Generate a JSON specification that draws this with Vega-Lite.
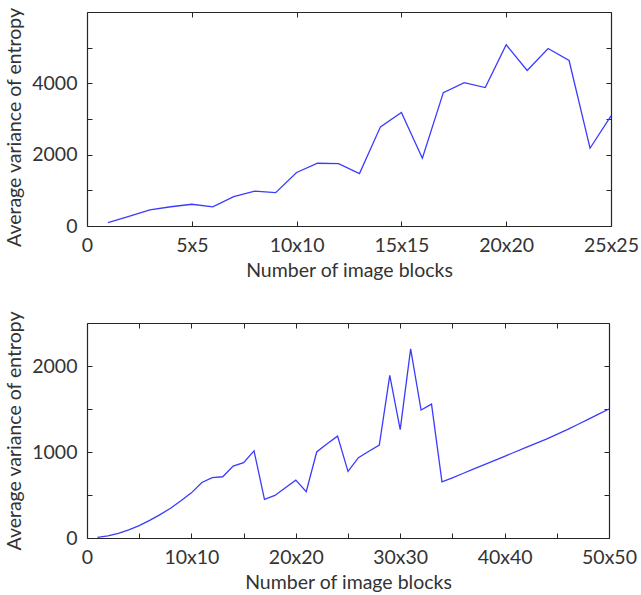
{
  "$schema": "https://vega.github.io/schema/vega-lite/v6.json",
  "padding": {"left": 4, "top": 7, "right": 20, "bottom": 5},
  "spacing": 30,
  "datasets": {
    "top": [
      {"blocks": 1, "variance": 95}, {"blocks": 2, "variance": 270}, {"blocks": 3, "variance": 450},
      {"blocks": 4, "variance": 540}, {"blocks": 5, "variance": 610}, {"blocks": 6, "variance": 535},
      {"blocks": 7, "variance": 825}, {"blocks": 8, "variance": 975}, {"blocks": 9, "variance": 935},
      {"blocks": 10, "variance": 1500}, {"blocks": 11, "variance": 1760}, {"blocks": 12, "variance": 1750},
      {"blocks": 13, "variance": 1470}, {"blocks": 14, "variance": 2780}, {"blocks": 15, "variance": 3180},
      {"blocks": 16, "variance": 1900}, {"blocks": 17, "variance": 3740}, {"blocks": 18, "variance": 4020},
      {"blocks": 19, "variance": 3880}, {"blocks": 20, "variance": 5080}, {"blocks": 21, "variance": 4360},
      {"blocks": 22, "variance": 4975}, {"blocks": 23, "variance": 4640}, {"blocks": 24, "variance": 2180},
      {"blocks": 25, "variance": 3085}
    ],
    "bottom": [
      {"blocks": 1, "variance": 8}, {"blocks": 2, "variance": 25}, {"blocks": 3, "variance": 55},
      {"blocks": 4, "variance": 94}, {"blocks": 5, "variance": 143}, {"blocks": 6, "variance": 205},
      {"blocks": 7, "variance": 272}, {"blocks": 8, "variance": 345}, {"blocks": 9, "variance": 432},
      {"blocks": 10, "variance": 525}, {"blocks": 11, "variance": 645}, {"blocks": 12, "variance": 703},
      {"blocks": 13, "variance": 712}, {"blocks": 14, "variance": 836}, {"blocks": 15, "variance": 876},
      {"blocks": 16, "variance": 1013}, {"blocks": 17, "variance": 450}, {"blocks": 18, "variance": 495},
      {"blocks": 19, "variance": 585}, {"blocks": 20, "variance": 673}, {"blocks": 21, "variance": 538},
      {"blocks": 22, "variance": 1000}, {"blocks": 23, "variance": 1096}, {"blocks": 24, "variance": 1184},
      {"blocks": 25, "variance": 775}, {"blocks": 26, "variance": 934}, {"blocks": 27, "variance": 1008},
      {"blocks": 28, "variance": 1080}, {"blocks": 29, "variance": 1890}, {"blocks": 30, "variance": 1261},
      {"blocks": 31, "variance": 2199}, {"blocks": 32, "variance": 1488}, {"blocks": 33, "variance": 1557},
      {"blocks": 34, "variance": 653}, {"blocks": 35, "variance": 700}, {"blocks": 36, "variance": 750},
      {"blocks": 37, "variance": 800}, {"blocks": 38, "variance": 850}, {"blocks": 39, "variance": 900},
      {"blocks": 40, "variance": 950}, {"blocks": 41, "variance": 1000}, {"blocks": 42, "variance": 1050},
      {"blocks": 43, "variance": 1100}, {"blocks": 44, "variance": 1150}, {"blocks": 45, "variance": 1205},
      {"blocks": 46, "variance": 1260}, {"blocks": 47, "variance": 1320}, {"blocks": 48, "variance": 1380},
      {"blocks": 49, "variance": 1440}, {"blocks": 50, "variance": 1500}
    ]
  },
  "vconcat": [
    {
      "width": 524,
      "height": 214,
      "data": {"name": "top"},
      "resolve": {"scale": {"x": "independent", "y": "independent"}, "axis": {"x": "independent", "y": "independent"}},
      "layer": [
        {
          "mark": {"type": "line", "color": "#3b3bff", "strokeWidth": 1.3},
          "encoding": {
            "x": {"field": "blocks", "type": "quantitative", "scale": {"domain": [0, 25], "nice": false},
              "axis": {"orient": "bottom", "title": "Number of image blocks", "values": [0, 5, 10, 15, 20, 25],
                "labelExpr": "datum.value == 0 ? '0' : datum.value + 'x' + datum.value"}},
            "y": {"field": "variance", "type": "quantitative", "scale": {"domain": [0, 6000], "nice": false},
              "axis": {"orient": "left", "title": "Average variance of entropy", "titleY": 115, "values": [0, 1000, 2000, 3000, 4000, 5000],
                "labelExpr": "datum.value % 2000 == 0 ? datum.value + '' : ''"}}
          }
        },
        {
          "mark": {"type": "line", "opacity": 0},
          "encoding": {
            "x": {"field": "blocks", "type": "quantitative", "scale": {"domain": [0, 25], "nice": false},
              "axis": {"orient": "top", "title": null, "labels": false, "values": [0, 5, 10, 15, 20, 25]}},
            "y": {"field": "variance", "type": "quantitative", "scale": {"domain": [0, 6000], "nice": false},
              "axis": {"orient": "right", "title": null, "labels": false, "values": [0, 1000, 2000, 3000, 4000, 5000]}}
          }
        }
      ]
    },
    {
      "width": 522,
      "height": 215,
      "data": {"name": "bottom"},
      "resolve": {"scale": {"x": "independent", "y": "independent"}, "axis": {"x": "independent", "y": "independent"}},
      "layer": [
        {
          "mark": {"type": "line", "color": "#3b3bff", "strokeWidth": 1.3},
          "encoding": {
            "x": {"field": "blocks", "type": "quantitative", "scale": {"domain": [0, 50], "nice": false},
              "axis": {"orient": "bottom", "title": "Number of image blocks", "values": [0, 5, 10, 15, 20, 25, 30, 35, 40, 45, 50],
                "labelExpr": "datum.value == 0 ? '0' : (datum.value % 10 == 0 ? datum.value + 'x' + datum.value : '')"}},
            "y": {"field": "variance", "type": "quantitative", "scale": {"domain": [0, 2500], "nice": false},
              "axis": {"orient": "left", "title": "Average variance of entropy", "values": [0, 500, 1000, 1500, 2000],
                "labelExpr": "datum.value % 1000 == 0 ? datum.value + '' : ''"}}
          }
        },
        {
          "mark": {"type": "line", "opacity": 0},
          "encoding": {
            "x": {"field": "blocks", "type": "quantitative", "scale": {"domain": [0, 50], "nice": false},
              "axis": {"orient": "top", "title": null, "labels": false, "values": [0, 5, 10, 15, 20, 25, 30, 35, 40, 45, 50]}},
            "y": {"field": "variance", "type": "quantitative", "scale": {"domain": [0, 2500], "nice": false},
              "axis": {"orient": "right", "title": null, "labels": false, "values": [0, 500, 1000, 1500, 2000]}}
          }
        }
      ]
    }
  ],
  "config": {
    "view": {"stroke": null},
    "axis": {
      "grid": false,
      "labelFont": "Lato",
      "labelFontSize": 19.5,
      "labelColor": "#333333",
      "labelPadding": 15,
      "titleFont": "Lato",
      "titleFontSize": 19.5,
      "titleFontWeight": "normal",
      "titleColor": "#333333",
      "titlePadding": 7,
      "domainColor": "#262626",
      "domainWidth": 1.2,
      "tickColor": "#262626",
      "tickSize": -5,
      "labelOverlap": false,
      "labelFlush": false
    }
  }
}
